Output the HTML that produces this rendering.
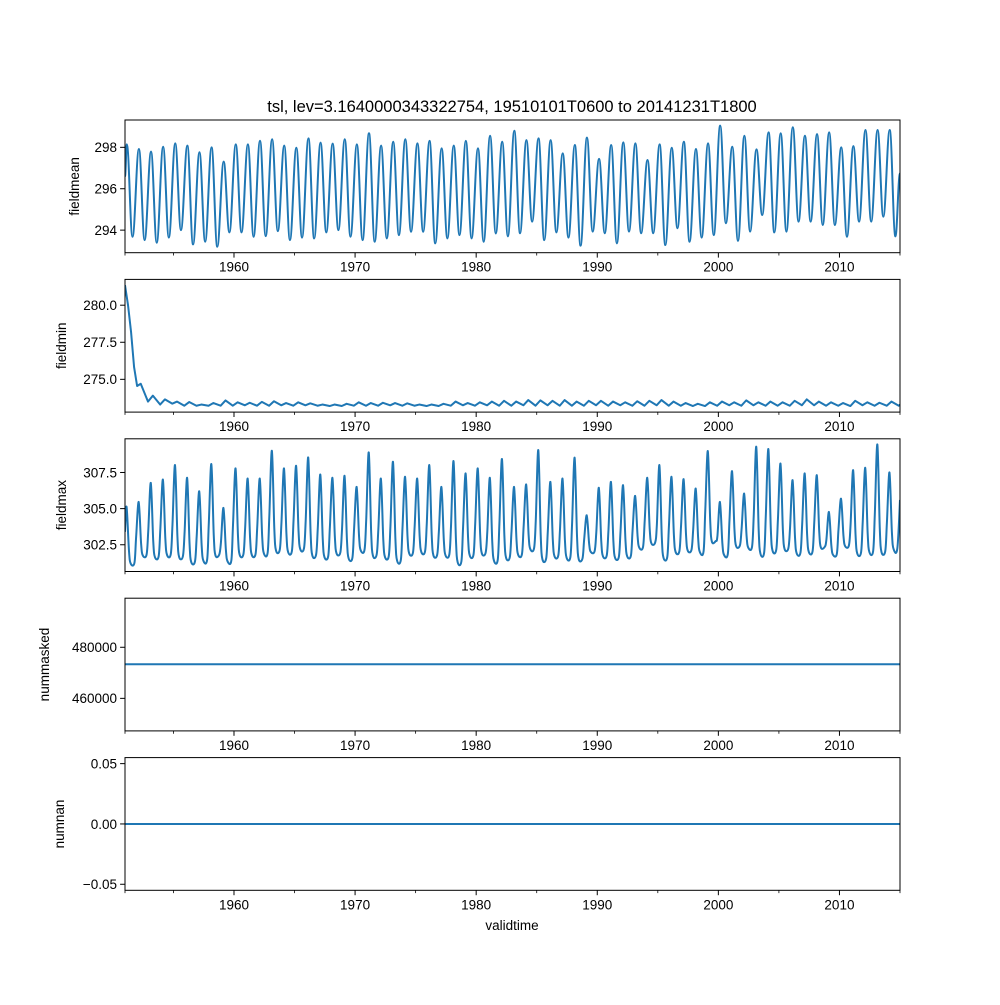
<!DOCTYPE html>
<html><head><meta charset="utf-8"><style>
body{margin:0;background:#fff}
svg text{font-family:"Liberation Sans","DejaVu Sans",sans-serif;fill:#000}
</style></head><body>
<svg id="chart" width="1000" height="1000" viewBox="0 0 1000 1000">
<rect width="1000" height="1000" fill="#fff"/>
<text x="512" y="112" font-size="16.5" text-anchor="middle">tsl, lev=3.1640000343322754, 19510101T0600 to 20141231T1800</text>
<text x="512" y="930" font-size="13.5" text-anchor="middle">validtime</text>
</svg>
<script>
const xTicksMajor=[1960,1970,1980,1990,2000,2010];
const xTicksMinor=[1951,1955,1965,1975,1985,1995,2005,2015];
const meanPeaks=[298.14,297.92,297.79,298.03,298.19,298.08,297.76,298.0,297.31,298.14,298.14,298.32,298.39,298.08,297.98,298.43,298.23,298.18,298.39,298.14,298.68,298.08,298.27,298.39,298.19,298.31,297.95,298.08,298.31,297.95,298.56,298.27,298.8,298.35,298.43,298.35,297.71,298.11,298.47,297.44,298.11,298.24,298.19,297.39,298.14,297.98,298.27,297.92,298.19,299.05,298.03,298.56,297.9,298.72,298.68,298.97,298.56,298.64,298.72,298.0,298.06,298.84,298.84,298.84];
const meanTroughs=[293.68,293.52,293.39,293.64,294.0,293.31,293.44,293.2,293.89,293.89,293.68,293.71,293.95,293.52,293.64,293.6,293.89,294.0,293.68,293.52,293.44,293.6,293.76,293.92,293.92,293.36,293.6,293.76,293.6,293.44,293.84,293.7,293.85,294.41,293.52,293.89,293.64,293.25,293.93,293.85,293.36,293.93,293.85,293.85,293.28,294.09,293.44,293.64,293.76,294.33,293.48,293.93,294.73,293.89,293.93,294.41,294.41,294.25,294.25,293.68,294.41,294.41,294.65,293.7];
const meanStart=296.6, meanEnd=296.74;
const minEarly=[281.35,280.0,278.2,275.83,274.55];
const minPeaks=[274.7,273.9,273.65,273.5,273.47,273.3,273.4,273.58,273.45,273.42,273.48,273.52,273.4,273.45,273.38,273.3,273.3,273.35,273.45,273.4,273.42,273.4,273.38,273.3,273.3,273.35,273.5,273.4,273.45,273.5,273.55,273.5,273.6,273.58,273.55,273.6,273.5,273.55,273.55,273.5,273.45,273.52,273.55,273.6,273.5,273.4,273.35,273.45,273.5,273.45,273.58,273.45,273.5,273.45,273.55,273.65,273.5,273.45,273.4,273.55,273.45,273.42,273.5];
const minTroughs=[273.5,273.3,273.36,273.22,273.22,273.22,273.22,273.22,273.25,273.22,273.22,273.25,273.22,273.25,273.22,273.2,273.2,273.22,273.22,273.22,273.25,273.22,273.22,273.2,273.2,273.22,273.25,273.22,273.25,273.22,273.22,273.25,273.22,273.25,273.22,273.22,273.22,273.25,273.22,273.25,273.22,273.22,273.25,273.22,273.22,273.2,273.2,273.22,273.25,273.22,273.25,273.22,273.22,273.22,273.25,273.25,273.22,273.22,273.2,273.25,273.22,273.22,273.22];
const maxPeaks=[305.12,305.46,306.78,307.01,308.01,307.13,306.2,308.08,305.05,307.78,307.08,307.08,309.0,307.78,307.96,308.54,307.36,307.13,307.27,306.5,308.89,307.08,308.24,307.2,307.08,308.01,306.5,308.29,307.43,307.78,307.13,308.43,306.5,306.67,309.05,306.85,307.08,308.52,304.54,306.44,306.85,306.62,305.88,307.13,308.01,307.2,307.04,306.39,308.98,305.46,307.59,306.04,309.28,309.12,308.12,306.97,307.43,307.31,304.77,305.69,307.66,307.82,309.44,307.5];
const maxTroughs=[301.2,301.76,301.65,301.8,301.65,301.3,301.4,301.76,301.35,301.8,301.8,301.9,302.1,302.0,302.2,301.76,301.65,301.9,301.55,302.1,301.76,301.65,301.4,301.9,302.0,301.76,301.76,301.3,301.76,301.9,301.4,301.6,301.8,302.2,301.5,301.7,301.6,301.5,302.0,301.7,301.6,301.7,302.3,302.6,301.6,302.0,302.1,302.0,302.7,301.8,302.4,302.3,301.9,302.1,302.2,301.9,302.0,302.3,301.8,302.4,301.9,302.0,302.0,302.2];
const maxStart=303.4, maxEnd=305.6;
const numMasked=[473333,473333];
const numNan=[0,0];
const panelYLabels=["fieldmean","fieldmin","fieldmax","nummasked","numnan"];
const panelDomains=[[292.91,299.32],[272.79,281.74],[300.65,309.83],[447255,499216],[-0.055,0.055]];
const panelTicks=[[294,296,298],[275,277.5,280],[302.5,305,307.5],[460000,480000],[-0.05,0,0.05]];
const panelTickText=[["294","296","298"],["275.0","277.5","280.0"],["302.5","305.0","307.5"],["460000","480000"],["\u22120.05","0.00","0.05"]];

const NS="http://www.w3.org/2000/svg";
const svg=document.getElementById('chart');
const X0=125,X1=900,T0=1951,T1=2015,PH=132.7,PSTEP=159.4,PTOP=120;
function xs(t){return X0+(t-T0)*(X1-X0)/(T1-T0);}
function mk(tag,attrs,parent){const e=document.createElementNS(NS,tag);for(const k in attrs)e.setAttribute(k,attrs[k]);(parent||svg).appendChild(e);return e;}
function ysFor(i){const top=PTOP+i*PSTEP,d=panelDomains[i];return v=>top+PH-(v-d[0])/(d[1]-d[0])*PH;}
function smoothPath(pts,ys){let d='M'+xs(pts[0][0]).toFixed(2)+','+ys(pts[0][1]).toFixed(2);
 for(let k=1;k<pts.length;k++){const a=pts[k-1],b=pts[k];const xa=xs(a[0]),xb=xs(b[0]),ya=ys(a[1]),yb=ys(b[1]);const dx=(xb-xa)/2.6;
 d+=' C'+(xa+dx).toFixed(2)+','+ya.toFixed(2)+' '+(xb-dx).toFixed(2)+','+yb.toFixed(2)+' '+xb.toFixed(2)+','+yb.toFixed(2);}return d;}
function crPath(pts,ys){const P=pts.map(p=>[xs(p[0]),ys(p[1])]);let d='M'+P[0][0].toFixed(2)+','+P[0][1].toFixed(2);
 for(let k=0;k<P.length-1;k++){const p0=P[Math.max(0,k-1)],p1=P[k],p2=P[k+1],p3=P[Math.min(P.length-1,k+2)];
 const c1=[p1[0]+(p2[0]-p0[0])/6,p1[1]+(p2[1]-p0[1])/6],c2=[p2[0]-(p3[0]-p1[0])/6,p2[1]-(p3[1]-p1[1])/6];
 d+=' C'+c1[0].toFixed(2)+','+c1[1].toFixed(2)+' '+c2[0].toFixed(2)+','+c2[1].toFixed(2)+' '+p2[0].toFixed(2)+','+p2[1].toFixed(2);}return d;}
function linePath(pts,ys){return pts.map((p,k)=>(k?'L':'M')+xs(p[0]).toFixed(2)+','+ys(p[1]).toFixed(2)).join(' ');}

for(let i=0;i<5;i++){
 const top=PTOP+i*PSTEP, ys=ysFor(i);
 const g=mk('g',{});
 
 
 const cp=mk('clipPath',{id:'clip'+i},g);mk('rect',{x:X0,y:top,width:X1-X0,height:PH},cp);
 let d='';
 if(i===0){const pts=[[T0,meanStart]];for(let k=0;k<meanPeaks.length;k++){pts.push([T0+k+0.15,meanPeaks[k]]);pts.push([T0+k+0.62,meanTroughs[k]??meanTroughs[meanTroughs.length-1]]);}pts.push([T1,meanEnd]);d=smoothPath(pts,ys);}
 if(i===1){const pts=[];minEarly.forEach((v,k)=>pts.push([T0+k*0.25,v]));for(let k=0;k<minPeaks.length;k++){pts.push([T0+1+k+0.3,minPeaks[k]]);pts.push([T0+1+k+0.9,minTroughs[k]??minTroughs[minTroughs.length-1]]);}pts.push([T1,273.3]);d=linePath(pts,ys);}
 if(i===2){const pts=[[T0,maxStart]];for(let k=0;k<maxPeaks.length;k++){const p=maxPeaks[k],tr=maxTroughs[k]??maxTroughs[maxTroughs.length-1];const t=T0+k;
   if(k>0)pts.push([t-0.08,tr+(p-tr)*0.35]);
   pts.push([t+0.13,p]);pts.push([t+0.33,tr+(p-tr)*0.22]);pts.push([t+0.47,tr]);pts.push([t+0.78,tr+0.05]);}
   pts.push([T1,maxEnd]);d=crPath(pts,ys);}
 if(i===3){d=linePath([[T0,numMasked[0]],[T1,numMasked[1]]],ys);}
 if(i===4){d=linePath([[T0,numNan[0]],[T1,numNan[1]]],ys);}
 const s=mk('path',{d:d,fill:'none',stroke:'#1f77b4','stroke-width':2,'stroke-linejoin':'round','clip-path':'url(#clip'+i+')'},g);
 
 
 const fr=mk('rect',{x:X0,y:top,width:X1-X0,height:PH,fill:'none',stroke:'#000','stroke-width':1},g);
 
 
 panelTicks[i].forEach((v,k)=>{const y=ys(v);mk('line',{x1:X0-4.9,x2:X0,y1:y,y2:y,stroke:'#000','stroke-width':1},g);
  const t=mk('text',{x:X0-8,y:y+4.8,'font-size':13.5,'text-anchor':'end'},g);t.textContent=panelTickText[i][k];
  
  });
 const yb=top+PH;
 xTicksMajor.forEach(v=>{const x=xs(v);mk('line',{x1:x,x2:x,y1:yb,y2:yb+4.9,stroke:'#000','stroke-width':1},g);
  const t=mk('text',{x:x,y:yb+19,'font-size':13.5,'text-anchor':'middle'},g);t.textContent=String(v);
  
  });
 xTicksMinor.forEach(v=>{const x=xs(v);mk('line',{x1:x,x2:x,y1:yb,y2:yb+2.8,stroke:'#000','stroke-width':0.8},g);});
 const yl=mk('text',{x:0,y:0,'font-size':13.5,'text-anchor':'middle',transform:'translate('+(i===3?49:(i===4?64:(i===0?79:66)))+','+(top+PH/2)+') rotate(-90)'},g);
 yl.textContent=panelYLabels[i];
 
 
}
</script>
</body></html>
